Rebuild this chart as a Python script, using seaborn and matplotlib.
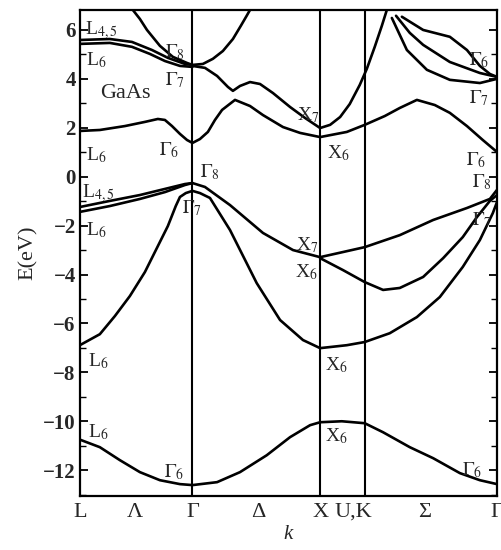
import numpy as np
import pandas as pd
import matplotlib
matplotlib.use("Agg")
import matplotlib.pyplot as plt
import matplotlib.transforms as mtrans
import seaborn as sns
from matplotlib.ticker import MultipleLocator

# ---- high-symmetry points (fraction of path) ----
K_L, K_G, K_X, K_K, K_G2 = 0.0, 0.27, 0.576, 0.683, 1.0
xtick_pos = [0.0, 0.132, 0.27, 0.427, 0.576, 0.683, 0.827, 1.0]
xtick_lab = ["L", "Λ", "Γ", "Δ", "X", "U,K", "Σ", "Γ"]

# ---- bands (k, E in eV) ----
vb_s_k = [0.0, 0.048, 0.096, 0.144, 0.192, 0.240, 0.27, 0.329, 0.384, 0.448, 0.504,
          0.552, 0.576, 0.628, 0.683, 0.727, 0.791, 0.847, 0.911, 0.959, 1.0]
vb_s_E = [-10.75, -11.06, -11.59, -12.08, -12.41, -12.57, -12.61, -12.49, -12.08, -11.39, -10.65,
          -10.16, -10.04, -10.00, -10.08, -10.45, -11.06, -11.51, -12.12, -12.41, -12.57]

vb_so_k = [0.0, 0.048, 0.084, 0.120, 0.156, 0.187, 0.211, 0.230, 0.240, 0.254, 0.27, 0.288,
           0.312, 0.360, 0.424, 0.480, 0.535, 0.576, 0.640, 0.683, 0.743, 0.808, 0.863,
           0.918, 0.959, 0.990, 1.0]
vb_so_E = [-6.89, -6.44, -5.70, -4.88, -3.90, -2.84, -2.02, -1.20, -0.83, -0.67, -0.58, -0.67,
           -0.87, -2.18, -4.35, -5.86, -6.68, -7.01, -6.89, -6.76, -6.40, -5.74, -4.92,
           -3.69, -2.59, -1.49, -1.04]

vb_hh_k = [0.27, 0.300, 0.360, 0.439, 0.511, 0.576, 0.631, 0.683, 0.767, 0.847, 0.928, 0.983, 1.0]
vb_hh_E = [-0.26, -0.42, -1.16, -2.30, -3.00, -3.29, -3.08, -2.88, -2.39, -1.77, -1.28, -0.91, -0.54]

vb_lh_k = [0.576, 0.631, 0.683, 0.727, 0.767, 0.823, 0.871, 0.918, 0.952, 0.983, 1.0]
vb_lh_E = [-3.33, -3.82, -4.31, -4.63, -4.55, -4.10, -3.33, -2.47, -1.65, -0.99, -0.75]

vb_l45_k = [0.0, 0.072, 0.144, 0.204, 0.252, 0.27]
vb_l45_E = [-1.24, -0.99, -0.75, -0.50, -0.30, -0.26]
vb_l6_k = [0.0, 0.072, 0.144, 0.204, 0.252, 0.27]
vb_l6_E = [-1.44, -1.20, -0.91, -0.63, -0.34, -0.26]

cb1_k = [0.0, 0.048, 0.108, 0.156, 0.187, 0.204, 0.221, 0.240, 0.257, 0.27, 0.288, 0.307,
         0.324, 0.341, 0.372, 0.408, 0.439, 0.487, 0.528, 0.576, 0.640, 0.683, 0.731,
         0.767, 0.808, 0.851, 0.887, 0.928, 0.966, 1.0]
cb1_E = [1.87, 1.91, 2.07, 2.24, 2.36, 2.32, 2.07, 1.75, 1.50, 1.38, 1.54, 1.83,
         2.32, 2.73, 3.14, 2.89, 2.52, 2.03, 1.79, 1.62, 1.83, 2.12, 2.48,
         2.81, 3.14, 2.93, 2.61, 2.07, 1.50, 1.01]

cb_l45_k = [0.0, 0.072, 0.125, 0.173, 0.211, 0.252, 0.27]
cb_l45_E = [5.59, 5.63, 5.51, 5.18, 4.86, 4.61, 4.57]
cb_l6_k = [0.0, 0.072, 0.125, 0.168, 0.204, 0.240, 0.27]
cb_l6_E = [5.43, 5.47, 5.31, 5.02, 4.73, 4.53, 4.49]

cb2_k = [0.27, 0.300, 0.329, 0.355, 0.367, 0.384, 0.408, 0.432, 0.463, 0.504, 0.540, 0.576,
         0.600, 0.624, 0.647, 0.671, 0.688, 0.707, 0.724, 0.736]
cb2_E = [4.53, 4.45, 4.12, 3.67, 3.51, 3.71, 3.87, 3.79, 3.42, 2.85, 2.40, 1.99,
         2.12, 2.44, 2.97, 3.75, 4.41, 5.31, 6.17, 6.82]

cb3_k = [0.127, 0.144, 0.161, 0.192, 0.223, 0.257, 0.27, 0.295, 0.319, 0.343, 0.367, 0.386, 0.400, 0.408]
cb3_E = [6.82, 6.45, 6.00, 5.35, 4.90, 4.65, 4.57, 4.61, 4.82, 5.14, 5.63, 6.17, 6.58, 6.82]

cba_k = [0.772, 0.823, 0.887, 0.928, 0.959, 0.983, 1.0]
cba_E = [6.54, 6.00, 5.72, 5.18, 4.53, 4.20, 4.08]
cbb_k = [0.758, 0.791, 0.823, 0.887, 0.959, 1.0]
cbb_E = [6.58, 5.88, 5.39, 4.69, 4.24, 4.08]
cbc_k = [0.748, 0.784, 0.832, 0.887, 0.959, 1.0]
cbc_E = [6.49, 5.18, 4.37, 3.96, 3.83, 4.00]

bands = {
    "vb_s": (vb_s_k, vb_s_E), "vb_so": (vb_so_k, vb_so_E), "vb_hh": (vb_hh_k, vb_hh_E),
    "vb_lh": (vb_lh_k, vb_lh_E), "vb_l45": (vb_l45_k, vb_l45_E), "vb_l6": (vb_l6_k, vb_l6_E),
    "cb1": (cb1_k, cb1_E), "cb_l45": (cb_l45_k, cb_l45_E), "cb_l6": (cb_l6_k, cb_l6_E),
    "cb2": (cb2_k, cb2_E), "cb3": (cb3_k, cb3_E), "cba": (cba_k, cba_E),
    "cbb": (cbb_k, cbb_E), "cbc": (cbc_k, cbc_E),
}

# ---- point labels ----
lab_text = [r"L$_{4,5}$", r"L$_6$", r"$\Gamma_8$", r"$\Gamma_7$", r"L$_6$", r"$\Gamma_6$",
            r"$\Gamma_8$", r"L$_{4,5}$", r"$\Gamma_7$", r"L$_6$", r"L$_6$",
            r"X$_7$", r"X$_6$", r"X$_7$", r"X$_6$", r"X$_6$", r"X$_6$", r"L$_6$",
            r"$\Gamma_6$", r"$\Gamma_6$", r"$\Gamma_6$", r"$\Gamma_7$", r"$\Gamma_6$",
            r"$\Gamma_8$", r"$\Gamma_7$"]
lab_k = [0.012, 0.014, 0.204, 0.204, 0.014, 0.190,
         0.288, 0.005, 0.245, 0.014, 0.019,
         0.518, 0.516, 0.521, 0.592, 0.588, 0.588, 0.019,
         0.202, 0.916, 0.933, 0.933, 0.926,
         0.940, 0.940]
lab_E = [6.0, 4.77, 5.10, 3.96, 0.89, 1.09,
         0.19, -0.67, -1.29, -2.18, -7.55,
         -2.8, -3.9, 2.52, 0.97, -7.7, -10.6, -10.45,
         -12.1, -12.0, 4.77, 3.22, 0.68,
         -0.22, -1.77]

rows = []
for name, (ks, es) in bands.items():
    for i, (kk, ee) in enumerate(zip(ks, es)):
        rows.append({"band": name, "order": i, "k": kk, "E": ee})
df = pd.DataFrame(rows)

sns.set_theme(style="white")
plt.rcParams["font.family"] = ["Liberation Serif", "DejaVu Serif"]
plt.rcParams["mathtext.fontset"] = "stix"

fig = plt.figure(figsize=(5.02, 5.5), dpi=100)
ax = fig.add_axes([0.159, 0.098, 0.831, 0.884])

sns.lineplot(data=df, x="k", y="E", units="band", estimator=None, sort=False,
             color="black", linewidth=1.9, ax=ax, legend=False)
for ln in ax.get_lines():
    ln.set_solid_joinstyle("round")
    ln.set_solid_capstyle("round")

for kv in [K_G, K_X, K_K]:
    ax.axvline(kv, color="black", linewidth=1.5, zorder=1)

ax.set_xlim(0, 1)
ax.set_ylim(-13.06, 6.82)

ax.yaxis.set_minor_locator(MultipleLocator(1))
yt = np.arange(-12, 7, 2)
ax.set_yticks(yt)
ax.set_yticklabels([("\u2212" + str(-v)) if v < 0 else str(v) for v in yt],
                   fontsize=15, fontweight="bold")
ax.tick_params(axis="y", which="both", direction="in", left=True, right=True, color="black")
ax.tick_params(axis="y", which="major", length=6, width=1.3, pad=3)
ax.tick_params(axis="y", which="minor", length=4, width=1.0)

ax.set_xticks(xtick_pos)
ax.set_xticklabels(xtick_lab, fontsize=16)
ax.tick_params(axis="x", length=0, pad=5)
for lbl in ax.get_xticklabels():
    if lbl.get_text() == "U,K":
        lbl.set_horizontalalignment("right")
        lbl.set_transform(lbl.get_transform() + mtrans.ScaledTranslation(8/100, 0, fig.dpi_scale_trans))

ax.set_xlabel("k", fontsize=15, style="italic", labelpad=2)
ax.set_ylabel("E(eV)", fontsize=16, labelpad=4)

for sp in ax.spines.values():
    sp.set_color("black")
    sp.set_linewidth(1.6)

ax.text(0.048, 3.42, "GaAs", fontsize=16, va="center", ha="left")
for t, kk, ee in zip(lab_text, lab_k, lab_E):
    ax.text(kk, ee, t, fontsize=14, va="center", ha="left")

fig.savefig("out.png", dpi=100, facecolor="white")
